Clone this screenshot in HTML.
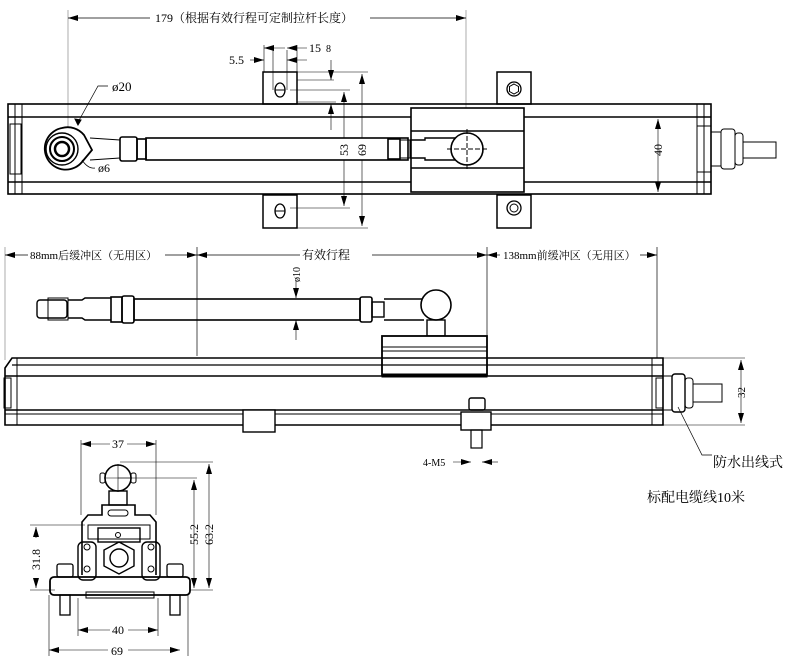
<!DOCTYPE html>
<html><head><meta charset="utf-8"><style>
html,body{margin:0;padding:0;background:#fff;}
svg{display:block;}
text{font-family:"Liberation Serif","Noto Serif CJK SC","Noto Sans CJK SC",serif;fill:#000;}
</style></head><body>
<svg width="790" height="668" viewBox="0 0 790 668" xmlns="http://www.w3.org/2000/svg">
<defs>
<marker id="a" viewBox="0 0 10 6" refX="10" refY="3" markerWidth="10" markerHeight="6" orient="auto-start-reverse" markerUnits="userSpaceOnUse"><path d="M0,0 L10,3 L0,6z" fill="#000"/></marker>
</defs>
<g fill="none" stroke="#000" stroke-width="1">
<!-- ========== TOP VIEW ========== -->
<!-- 179 dim -->
<line x1="68" y1="10" x2="68" y2="140" stroke="#888" stroke-width="0.7"/>
<line x1="466" y1="10" x2="466" y2="150" stroke="#888" stroke-width="0.7"/>
<line x1="68" y1="18" x2="150" y2="18" stroke-width="0.7" marker-start="url(#a)"/>
<line x1="370" y1="18" x2="466" y2="18" stroke-width="0.7" marker-end="url(#a)"/>
<!-- brackets top -->
<rect x="263" y="72" width="34" height="32" stroke-width="1.5"/>
<ellipse cx="280" cy="90" rx="5" ry="7" stroke-width="1.3"/><line x1="275" y1="90" x2="285" y2="90"/>
<rect x="497" y="72" width="34" height="32" stroke-width="1.5"/>
<circle cx="514" cy="89" r="7" stroke-width="1.3"/><polygon points="514,84 518.5,86.5 518.5,91.5 514,94 509.5,91.5 509.5,86.5"/>
<rect x="263" y="195" width="34" height="33" stroke-width="1.5"/>
<ellipse cx="280" cy="211" rx="5" ry="7" stroke-width="1.3"/><line x1="275" y1="211" x2="285" y2="211"/>
<rect x="497" y="195" width="34" height="33" stroke-width="1.5"/>
<circle cx="514" cy="208" r="7" stroke-width="1.3"/><circle cx="514" cy="208" r="4"/>
<!-- small dims near bracket -->
<line x1="264" y1="45" x2="264" y2="72" stroke-width="0.6"/>
<line x1="297" y1="45" x2="297" y2="72" stroke-width="0.6"/>
<line x1="273" y1="50" x2="273" y2="90" stroke-width="0.6"/>
<line x1="287" y1="50" x2="287" y2="90" stroke-width="0.6"/>
<line x1="264" y1="48" x2="285" y2="48" stroke-width="0.6" marker-start="url(#a)"/>
<line x1="287" y1="48" x2="307" y2="48" stroke-width="0.6" marker-start="url(#a)"/>
<line x1="250" y1="60" x2="264" y2="60" stroke-width="0.6" marker-end="url(#a)"/>
<line x1="287" y1="60" x2="307" y2="60" stroke-width="0.6" marker-start="url(#a)"/>
<line x1="297" y1="72" x2="368" y2="72" stroke-width="0.6"/>
<line x1="297" y1="80" x2="334" y2="80" stroke-width="0.6"/>
<line x1="290" y1="90" x2="350" y2="90" stroke-width="0.6"/>
<line x1="297" y1="102" x2="336" y2="102" stroke-width="0.6"/>
<line x1="297" y1="117" x2="336" y2="117" stroke-width="0.6"/>
<line x1="290" y1="208" x2="350" y2="208" stroke-width="0.6"/>
<line x1="297" y1="228" x2="368" y2="228" stroke-width="0.6"/>
<line x1="331" y1="60" x2="331" y2="80" stroke-width="0.6" marker-end="url(#a)"/>
<line x1="331" y1="130" x2="331" y2="104" stroke-width="0.6" marker-end="url(#a)"/>
<line x1="344" y1="92" x2="344" y2="206" stroke-width="0.6" marker-start="url(#a)" marker-end="url(#a)"/>
<line x1="362" y1="74" x2="362" y2="226" stroke-width="0.6" marker-start="url(#a)" marker-end="url(#a)"/>
<!-- body -->
<rect x="8" y="104" width="703" height="90" stroke-width="1.6"/>
<line x1="8" y1="117" x2="711" y2="117" stroke-width="1.6"/>
<line x1="8" y1="182" x2="711" y2="182" stroke-width="1.6"/>
<line x1="15" y1="104" x2="15" y2="194"/><line x1="22" y1="104" x2="22" y2="194"/>
<rect x="10" y="124" width="11" height="50"/>
<line x1="697" y1="104" x2="697" y2="194"/><line x1="704" y1="104" x2="704" y2="194"/>
<rect x="697" y="126" width="14" height="46"/>
<!-- 40 dim -->
<line x1="658" y1="119" x2="658" y2="192" stroke-width="0.6" marker-start="url(#a)" marker-end="url(#a)"/>
<!-- gland -->
<rect x="711" y="132" width="10" height="34"/>
<rect x="721" y="129" width="14" height="40" rx="3"/>
<rect x="735" y="133" width="8" height="32" rx="3"/>
<rect x="743" y="142" width="33" height="16"/>
<!-- slider -->
<rect x="411" y="108" width="113" height="84" fill="#fff" stroke-width="1.6"/>
<line x1="411" y1="131" x2="524" y2="131" stroke-width="1.4"/>
<line x1="411" y1="168" x2="524" y2="168" stroke-width="1.4"/>
<!-- rod -->
<rect x="146" y="138" width="262" height="22" fill="#fff" stroke-width="1.6"/>
<rect x="120" y="137" width="17" height="24" rx="2" stroke-width="1.6"/>
<rect x="137" y="139" width="9" height="20" stroke-width="1.6"/>
<rect x="388" y="139" width="12" height="20" stroke-width="1.6"/>
<rect x="400" y="140" width="10" height="18"/>
<path d="M410 140 L425 140 L425 138 L455 138 M410 158 L425 158 L425 160 L455 160" stroke-width="1.4"/>
<line x1="90" y1="138" x2="120" y2="140" /><line x1="90" y1="160" x2="120" y2="158"/>
<circle cx="467" cy="149" r="16" fill="#fff" stroke-width="1.6"/>
<line x1="447" y1="149" x2="487" y2="149" stroke-dasharray="5,2"/>
<line x1="467" y1="129" x2="467" y2="170" stroke-dasharray="5,2"/>
<!-- eye -->
<path d="M62 128 A21 21 0 1 0 82 162 L92 150 L84 135 A21 21 0 0 0 62 128z" fill="#fff" stroke-width="1.8"/>
<circle cx="62" cy="149" r="16" stroke-width="1.4"/>
<circle cx="62" cy="149" r="12" stroke-width="2"/>
<circle cx="62" cy="149" r="7" stroke-width="2.5"/>
<path d="M77 124 L98 86 L108 86" stroke-width="0.7"/>
<path d="M78 125 l-3 -6 l6 1z" fill="#000"/>
<path d="M82 160 Q88 169 95 168" stroke-width="0.7"/>

<!-- ========== SIDE VIEW ========== -->
<line x1="5" y1="247" x2="5" y2="360" stroke="#888" stroke-width="0.7"/>
<line x1="197" y1="247" x2="197" y2="356" stroke-width="0.7"/>
<line x1="487" y1="247" x2="487" y2="336" stroke-width="0.7"/>
<line x1="657" y1="247" x2="657" y2="358" stroke-width="0.7"/>
<line x1="5" y1="255" x2="28" y2="255" stroke-width="0.7" marker-start="url(#a)"/>
<line x1="165" y1="255" x2="197" y2="255" stroke-width="0.7" marker-end="url(#a)"/>
<line x1="197" y1="255" x2="300" y2="255" stroke-width="0.7" marker-start="url(#a)"/>
<line x1="372" y1="255" x2="487" y2="255" stroke-width="0.7" marker-end="url(#a)"/>
<line x1="487" y1="255" x2="500" y2="255" stroke-width="0.7" marker-start="url(#a)"/>
<line x1="640" y1="255" x2="657" y2="255" stroke-width="0.7" marker-end="url(#a)"/>
<line x1="296" y1="280" x2="296" y2="298" stroke-width="0.6" marker-end="url(#a)"/>
<line x1="296" y1="340" x2="296" y2="320" stroke-width="0.6" marker-end="url(#a)"/>
<!-- rod -->
<rect x="37" y="300" width="30" height="18" rx="3" stroke-width="1.4"/>
<rect x="48" y="298" width="20" height="22"/>
<path d="M68 300 L82 300 L85 298 L111 298 M68 318 L82 318 L85 320 L111 320" stroke-width="1.4"/>
<rect x="111" y="297" width="11" height="25" stroke-width="1.6"/>
<rect x="122" y="296" width="12" height="27" rx="2" stroke-width="1.6"/>
<rect x="134" y="299" width="226" height="21" stroke-width="1.6"/>
<rect x="360" y="297" width="12" height="25" rx="2" stroke-width="1.6"/>
<rect x="372" y="302" width="12" height="15" stroke-width="1.4"/>
<line x1="384" y1="299" x2="424" y2="299" stroke-width="1.4"/><line x1="384" y1="320" x2="424" y2="320" stroke-width="1.4"/>
<circle cx="436" cy="305" r="15" fill="#fff" stroke-width="1.6"/>
<rect x="427" y="320" width="18" height="16" stroke-width="1.4"/>
<rect x="382" y="336" width="105" height="39" fill="#fff" stroke-width="1.8"/>
<line x1="382" y1="347" x2="487" y2="347"/><line x1="382" y1="351" x2="487" y2="351"/>
<!-- body -->
<path d="M5 368 L12 358 L663 358 L663 425 L5 425 Z" stroke-width="1.6"/>
<line x1="12" y1="365" x2="663" y2="365" stroke-width="1.3"/>
<line x1="5" y1="376" x2="663" y2="376" stroke-width="1.6"/>
<line x1="5" y1="410" x2="663" y2="410" stroke-width="1.6"/>
<line x1="5" y1="414" x2="663" y2="414"/>
<line x1="17" y1="358" x2="17" y2="425"/>
<rect x="4" y="378" width="7" height="30"/>
<line x1="652" y1="358" x2="652" y2="425"/>
<rect x="656" y="378" width="7" height="30"/>
<rect x="382" y="374" width="105" height="3" fill="#000"/>
<!-- gland -->
<rect x="663" y="376" width="9" height="34"/>
<rect x="672" y="374" width="13" height="38" rx="3" stroke-width="1.4"/>
<rect x="685" y="378" width="8" height="30" rx="3"/>
<rect x="693" y="384" width="29" height="18"/>
<line x1="741" y1="360" x2="741" y2="423" stroke-width="0.6" marker-start="url(#a)" marker-end="url(#a)"/>
<line x1="663" y1="358" x2="745" y2="358" stroke-width="0.6"/>
<line x1="663" y1="425" x2="745" y2="425" stroke-width="0.6"/>
<path d="M678 407 L702 455 L712 455" stroke-width="0.7"/>
<!-- clip -->
<rect x="243" y="410" width="32" height="22" fill="#fff" stroke-width="1.4"/>
<!-- screw -->
<rect x="469" y="398" width="16" height="12" rx="2" stroke-width="1.4"/>
<rect x="461" y="412" width="30" height="18" fill="#fff" stroke-width="1.4"/>
<rect x="471" y="430" width="11" height="18" stroke-width="1.2"/>
<line x1="453" y1="462" x2="471" y2="462" stroke-width="0.6" marker-end="url(#a)"/>
<line x1="498" y1="462" x2="482" y2="462" stroke-width="0.6" marker-end="url(#a)"/>

<!-- ========== FRONT VIEW ========== -->
<line x1="81" y1="440" x2="81" y2="515" stroke-width="0.6"/>
<line x1="156" y1="440" x2="156" y2="515" stroke-width="0.6"/>
<line x1="81" y1="444" x2="110" y2="444" stroke-width="0.6" marker-start="url(#a)"/>
<line x1="127" y1="444" x2="156" y2="444" stroke-width="0.6" marker-end="url(#a)"/>
<circle cx="118" cy="478" r="13" stroke-width="1.6"/>
<rect x="100" y="473" width="5" height="10" rx="2"/><rect x="131" y="473" width="5" height="10" rx="2"/>
<line x1="104" y1="478" x2="132" y2="478" stroke-width="0.6"/>
<line x1="118" y1="464" x2="118" y2="492" stroke-width="0.6"/>
<rect x="109" y="491" width="18" height="14" stroke-width="1.4"/>
<path d="M82 575 L82 522 L88 515 L102 515 L102 505 L135 505 L135 515 L150 515 L156 522 L156 575" stroke-width="1.6"/>
<rect x="108" y="510" width="20" height="6" rx="3"/>
<rect x="88" y="525" width="62" height="14"/>
<rect x="98" y="528" width="42" height="14" stroke-width="1.4"/>
<rect x="78" y="542" width="18" height="38" rx="5" stroke-width="1.4"/>
<rect x="142" y="542" width="18" height="38" rx="5" stroke-width="1.4"/>
<circle cx="87" cy="547" r="3"/><circle cx="87" cy="569" r="3"/><circle cx="151" cy="547" r="3"/><circle cx="151" cy="569" r="3"/>
<polygon points="119,542 134,550 134,566 119,574 104,566 104,550" stroke-width="1.4"/>
<circle cx="119" cy="558" r="9" stroke-width="1.4"/>
<circle cx="118" cy="535" r="2.5"/>
<rect x="50" y="577" width="140" height="18" rx="4" stroke-width="1.8"/>
<rect x="86" y="592" width="68" height="6"/>
<rect x="57" y="564" width="16" height="13" rx="2" stroke-width="1.3"/>
<rect x="167" y="564" width="16" height="13" rx="2" stroke-width="1.3"/>
<rect x="60" y="595" width="10" height="20" stroke-width="1.3"/>
<rect x="170" y="595" width="10" height="20" stroke-width="1.3"/>
<!-- dims -->
<line x1="30" y1="525" x2="85" y2="525" stroke-width="0.6"/>
<line x1="30" y1="590" x2="55" y2="590" stroke-width="0.6"/>
<line x1="36" y1="527" x2="36" y2="538" stroke-width="0.6" marker-start="url(#a)"/>
<line x1="36" y1="578" x2="36" y2="588" stroke-width="0.6" marker-end="url(#a)"/>
<line x1="118" y1="478" x2="197" y2="478" stroke-width="0.6"/>
<line x1="120" y1="462" x2="213" y2="462" stroke-width="0.6"/>
<line x1="190" y1="590" x2="213" y2="590" stroke-width="0.6"/>
<line x1="194" y1="480" x2="194" y2="588" stroke-width="0.6" marker-start="url(#a)" marker-end="url(#a)"/>
<line x1="209" y1="464" x2="209" y2="588" stroke-width="0.6" marker-start="url(#a)" marker-end="url(#a)"/>
<line x1="78" y1="598" x2="78" y2="636" stroke-width="0.6"/>
<line x1="158" y1="598" x2="158" y2="636" stroke-width="0.6"/>
<line x1="49" y1="595" x2="49" y2="656" stroke-width="0.6"/>
<line x1="188" y1="595" x2="188" y2="656" stroke-width="0.6"/>
<line x1="78" y1="630" x2="110" y2="630" stroke-width="0.6" marker-start="url(#a)"/>
<line x1="128" y1="630" x2="158" y2="630" stroke-width="0.6" marker-end="url(#a)"/>
<line x1="49" y1="650" x2="108" y2="650" stroke-width="0.6" marker-start="url(#a)"/>
<line x1="128" y1="650" x2="180" y2="650" stroke-width="0.6" marker-end="url(#a)"/>
</g>
<g font-size="12">
<text x="155" y="22">179（根据有效行程可定制拉杆长度）</text>
<text x="309" y="52">15</text>
<text x="326" y="52" font-size="10">8</text>
<text x="229" y="64">5.5</text>
<text x="112" y="91" font-size="13">ø20</text>
<text x="98" y="172" font-size="12">ø6</text>
<text x="0" y="0" transform="translate(348,156) rotate(-90)">53</text>
<text x="0" y="0" transform="translate(366,156) rotate(-90)">69</text>
<text x="0" y="0" transform="translate(662,156) rotate(-90)">40</text>
<text x="30" y="259" font-size="11">88mm后缓冲区（无用区）</text>
<text x="302" y="259" font-size="12">有效行程</text>
<text x="503" y="259" font-size="11">138mm前缓冲区（无用区）</text>
<text x="0" y="0" transform="translate(300,282) rotate(-90)" font-size="10">ø10</text>
<text x="0" y="0" transform="translate(745,398) rotate(-90)" font-size="11">32</text>
<text x="423" y="466" font-size="10">4-M5</text>
<text x="713" y="467" font-size="14">防水出线式</text>
<text x="647" y="502" font-size="14">标配电缆线10米</text>
<text x="112" y="448">37</text>
<text x="0" y="0" transform="translate(40,570) rotate(-90)">31.8</text>
<text x="0" y="0" transform="translate(198,545) rotate(-90)">55.2</text>
<text x="0" y="0" transform="translate(213,545) rotate(-90)">63.2</text>
<text x="112" y="634">40</text>
<text x="111" y="655">69</text>
</g>
</svg>
</body></html>
